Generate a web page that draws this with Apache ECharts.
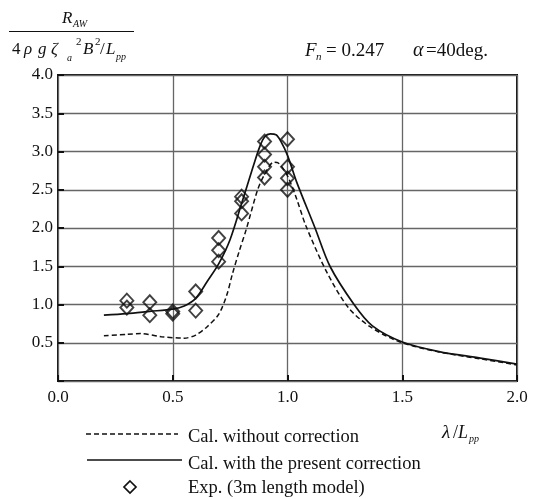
<!DOCTYPE html>
<html><head><meta charset="utf-8">
<script src="https://cdn.jsdelivr.net/npm/echarts@6/dist/echarts.min.js"></script>
<style>html,body{margin:0;padding:0;background:#fff}#c{width:536px;height:499px}</style>
</head><body><div id="c"></div>
<script>
// Cal. with the present correction (solid)
const solidX = [0.2,0.3,0.4,0.5,0.55,0.6,0.65,0.7,0.75,0.8,0.85,0.88,0.9,0.925,0.95,0.97,1.0,1.04,1.12,1.185,1.29,1.37,1.5,1.66,1.84,2.0];
const solidY = [0.86,0.88,0.91,0.94,0.98,1.08,1.3,1.53,1.85,2.32,2.8,3.07,3.19,3.23,3.22,3.14,2.95,2.6,2.0,1.5,1.0,0.72,0.51,0.385,0.30,0.22];
// Cal. without correction (dashed)
const dashX = [0.2,0.3,0.36,0.45,0.55,0.6,0.65,0.7,0.735,0.76,0.79,0.82,0.87,0.9,0.94,0.96,1.0,1.04,1.08,1.17,1.265,1.36,1.49,1.66,1.84,2.0];
const dashY = [0.59,0.61,0.62,0.58,0.56,0.6,0.71,0.87,1.12,1.40,1.70,1.98,2.5,2.7,2.86,2.85,2.68,2.38,2.03,1.43,0.96,0.71,0.51,0.38,0.29,0.21];
// Exp. (3m length model)
const expX = [0.3,0.3,0.4,0.4,0.5,0.5,0.6,0.6,0.7,0.7,0.7,0.8,0.8,0.8,0.9,0.9,0.9,0.9,1.0,1.0,1.0,1.0];
const expY = [1.05,0.96,1.03,0.86,0.91,0.88,1.17,0.92,1.87,1.71,1.56,2.41,2.35,2.19,3.13,2.96,2.80,2.66,3.16,2.80,2.65,2.50];
const xTicks = [0.0,0.5,1.0,1.5,2.0];
const yTicks = [0.5,1.0,1.5,2.0,2.5,3.0,3.5,4.0];

const FONT = '"Liberation Serif","DejaVu Serif",serif';
const zip = (a,b) => a.map((v,i)=>[v,b[i]]);

function txt(x,y,s,size,italic,align){
  return {type:'text',x:x,y:y,style:{text:s,font:(italic?'italic ':'')+size+'px '+FONT,fill:'#111',textAlign:align||'left',textVerticalAlign:'middle'}};
}

const chart = echarts.init(document.getElementById('c'));
chart.setOption({
  animation:false,
  backgroundColor:'#fff',
  grid:{left:58,right:19,top:75,bottom:118,show:true,borderColor:'#111',borderWidth:2,backgroundColor:'transparent'},
  xAxis:{type:'value',min:0,max:2,interval:0.5,
    axisLine:{show:false},
    axisTick:{show:true,inside:true,length:6,lineStyle:{color:'#111',width:2}},
    splitLine:{show:true,lineStyle:{color:'#666',width:1.3}},
    axisLabel:{color:'#111',fontFamily:FONT,fontSize:17,margin:8,formatter:v=>xTicks.includes(v)?v.toFixed(1):''}},
  yAxis:{type:'value',min:0,max:4,interval:0.5,
    axisLine:{show:false},
    axisTick:{show:true,inside:true,length:6,lineStyle:{color:'#111',width:2}},
    splitLine:{show:true,lineStyle:{color:'#666',width:1.3}},
    axisLabel:{color:'#111',fontFamily:FONT,fontSize:17,margin:5,formatter:v=>yTicks.includes(v)?v.toFixed(1):''}},
  series:[
    {name:'Cal. without correction',type:'line',data:zip(dashX,dashY),showSymbol:false,smooth:0.3,
      lineStyle:{color:'#111',width:1.5,type:[5,3]},z:2},
    {name:'Cal. with the present correction',type:'line',data:zip(solidX,solidY),showSymbol:false,smooth:0.3,
      lineStyle:{color:'#111',width:1.7},z:3},
    {name:'Exp. (3m length model)',type:'scatter',data:zip(expX,expY),symbol:'diamond',symbolSize:[13,14],
      itemStyle:{color:'transparent',borderColor:'#111',borderWidth:1.9},z:4}
  ],
  graphic:[
    // y-axis fraction label
    txt(62,19,'R',17,true), txt(73,24,'AW',10,true),
    {type:'line',shape:{x1:9,y1:31.5,x2:134,y2:31.5},style:{stroke:'#111',lineWidth:1.2}},
    txt(12,50,'4',17,false), txt(24,50,'ρ',17,true), txt(38,50,'g',17,true), txt(51,50,'ζ',17,true),
    txt(67,58,'a',10,true), txt(76,42,'2',11,false), txt(83,50,'B',17,true), txt(95,42,'2',11,false),
    txt(100,50,'/',17,false), txt(106,50,'L',17,true), txt(116,57,'pp',10,true),
    // conditions
    txt(305,51,'F',19,true), txt(316,57,'n',11,true), txt(326,51,'= 0.247',19,false),
    txt(413,51,'α',20,true), txt(426,51,'=40deg.',19,false),
    // x-axis name
    txt(442,433,'λ',19,true), txt(453,433,'/',18,false), txt(458,433,'L',18,true), txt(469,439,'pp',10,true),
    // legend
    {type:'line',shape:{x1:86,y1:434,x2:178,y2:434},style:{stroke:'#111',lineWidth:1.3,lineDash:[5,3]}},
    txt(188,437,'Cal. without correction',18.5,false),
    {type:'line',shape:{x1:87,y1:460,x2:182,y2:460},style:{stroke:'#111',lineWidth:1.5}},
    txt(188,464,'Cal. with the present correction',18.5,false),
    {type:'polygon',shape:{points:[[130,481],[136,487],[130,493],[124,487]]},style:{fill:'none',stroke:'#111',lineWidth:1.7}},
    txt(188,488,'Exp. (3m length model)',18.5,false)
  ]
});
</script></body></html>
